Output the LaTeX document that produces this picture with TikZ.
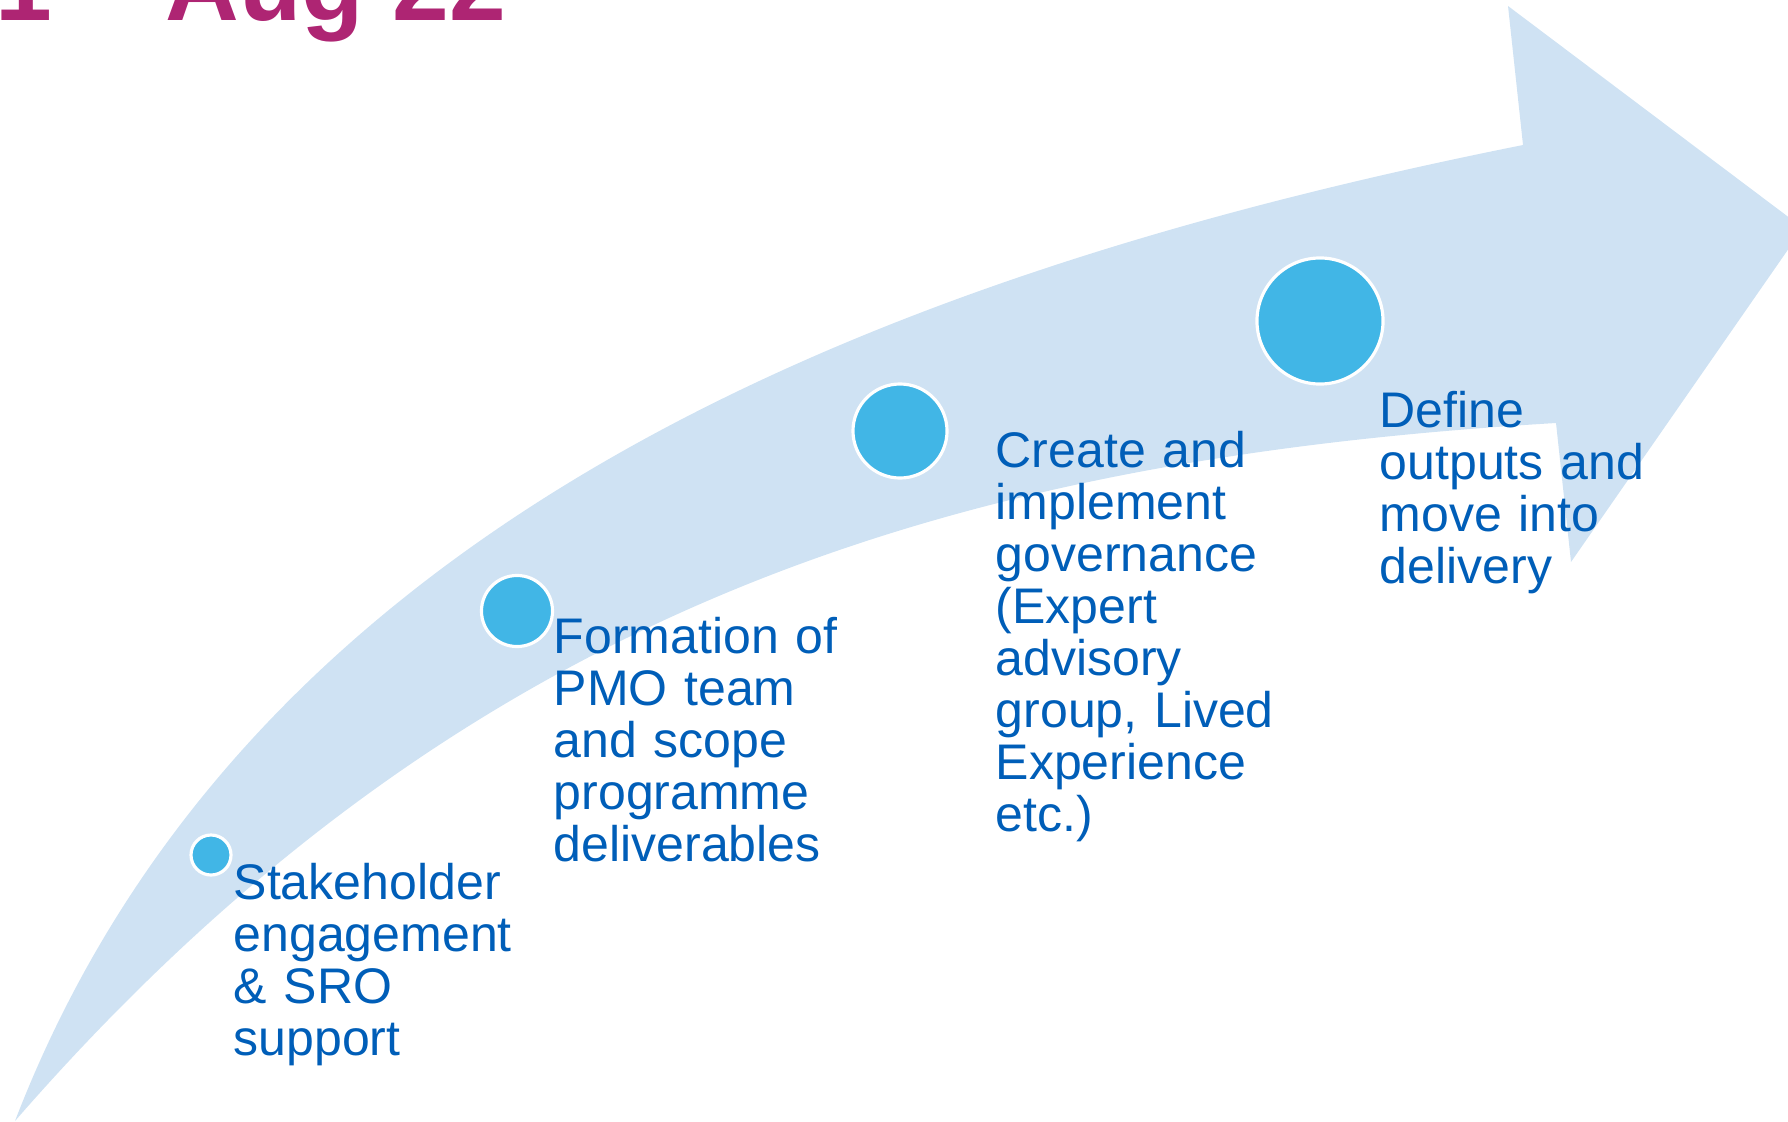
\documentclass[tikz,border=0pt]{standalone}
\usepackage{fontspec}
\setmainfont{Liberation Sans}
\definecolor{nhsblue}{RGB}{0,94,184}
\definecolor{nhslight}{RGB}{65,182,230}
\definecolor{nhspink}{RGB}{174,37,115}
\definecolor{paleblue}{RGB}{207,226,243}

\begin{document}
\begin{tikzpicture}[
	x=0.01cm,y=-0.01cm,
	band/.style={fill=paleblue},
	dot/.style={circle,fill=nhslight,draw=white,line width=0.9pt,inner sep=0pt},
	lbl/.style={anchor=base west,inner sep=0pt,text width=3.3cm,align=left,text=nhsblue,font=\fontsize{0.5cm}{0.52cm}\selectfont},
	title/.style={anchor=base west,inner sep=0pt,text=nhspink,font=\fontsize{1.02cm}{1.1cm}\selectfont\bfseries}
]

	\useasboundingbox (0,0) rectangle (1788,1121);

	\fill[band] (15,1121) .. controls (245,523) and (873,275) .. (1523,145)
		-- (1508,6) -- (1803,228) -- (1571,562) -- (1556,423)
		.. controls (956,459) and (465,604) .. (15,1121) -- cycle;

	\node[dot,minimum size=0.4cm] (c1) at (211,855) {};
	\node[dot,minimum size=0.71cm] (c2) at (517,611) {};
	\node[dot,minimum size=0.94cm] (c3) at (900,431) {};
	\node[dot,minimum size=1.26cm] (c4) at (1320,321) {};

	\node[lbl] (t1) at (233,899) {Stakeholder\\engagement\\\& SRO\\support};
	\node[lbl] (t2) at (553,653) {Formation of\\PMO team\\and scope\\programme\\deliverables};
	\node[lbl] (t3) at (995,467) {Create and\\implement\\governance\\(Expert\\advisory\\group, Lived\\Experience\\etc.)};
	\node[lbl] (t4) at (1379,427) {Define\\outputs and\\move into\\delivery};

	\node[title] (ttl) at (-5,21) {1 -- Aug 22};

\end{tikzpicture}
\end{document}
